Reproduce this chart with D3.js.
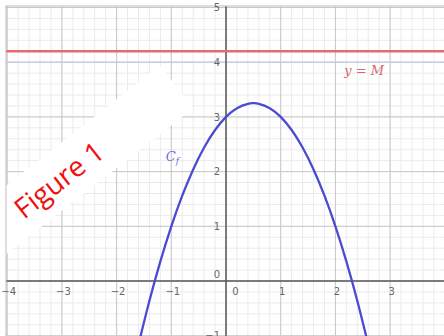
<!DOCTYPE html>
<html>
<head>
<meta charset="utf-8">
<script src="https://cdn.jsdelivr.net/npm/d3@7"></script>
<style>
  body { margin: 0; background: #fff; }
  svg { display: block; }
  .tick text { font-family: "DejaVu Sans", sans-serif; font-size: 10px; fill: #666; }
</style>
</head>
<body>
<div id="chart"></div>
<script>
// curve C_f, points
var curveX = [-1.6, -1.4, -1.2, -1.0, -0.8, -0.6, -0.4, -0.2, 0, 0.2, 0.4, 0.5, 0.6, 0.8, 1.0, 1.2, 1.4, 1.6, 1.8, 2.0, 2.2, 2.4, 2.6];
var curveY = [-1.16, -0.36, 0.36, 1.0, 1.56, 2.04, 2.44, 2.76, 3.0, 3.16, 3.24, 3.25, 3.24, 3.16, 3.0, 2.76, 2.44, 2.04, 1.56, 1.0, 0.36, -0.36, -1.16];

// horizontal line y = M
var lineM = 4.2;
var blueLine = 4;

var xTicks = [-4, -3, -2, -1, 0, 1, 2, 3];
var yTicks = [-1, 0, 1, 2, 3, 4, 5];

var width = 444, height = 336;
var padLeft = 6, padTop = 6;

var svg = d3.select("#chart").append("svg")
    .attr("width", width)
    .attr("height", height);

// scales : origin at (226,281), ~54.7 px per unit
var x = d3.scaleLinear().domain([-4.022, 3.985]).range([padLeft, width]);
var y = d3.scaleLinear().domain([-1.005, 5.027]).range([height, padTop]);

svg.append("clipPath").attr("id", "plot")
  .append("rect")
    .attr("x", padLeft).attr("y", padTop)
    .attr("width", width - padLeft).attr("height", height - padTop);

var plot = svg.append("g").attr("clip-path", "url(#plot)");

// minor grid
var minorX = d3.range(-4, 4.001, 0.2), minorY = d3.range(-1, 5.001, 0.2);
plot.selectAll(".mx").data(minorX).enter().append("line")
    .attr("x1", d => x(d)).attr("x2", d => x(d))
    .attr("y1", padTop).attr("y2", height)
    .attr("stroke", "#ebebeb").attr("stroke-width", 1);
plot.selectAll(".my").data(minorY).enter().append("line")
    .attr("y1", d => y(d)).attr("y2", d => y(d))
    .attr("x1", padLeft).attr("x2", width)
    .attr("stroke", "#ebebeb").attr("stroke-width", 1);

// major grid
plot.selectAll(".gx").data(xTicks).enter().append("line")
    .attr("x1", d => x(d)).attr("x2", d => x(d))
    .attr("y1", padTop).attr("y2", height)
    .attr("stroke", "#c8c8c8").attr("stroke-width", 1);
plot.selectAll(".gy").data(yTicks).enter().append("line")
    .attr("y1", d => y(d)).attr("y2", d => y(d))
    .attr("x1", padLeft).attr("x2", width)
    .attr("stroke", "#c8c8c8").attr("stroke-width", 1);

// light blue line at y = 4
plot.append("line")
    .attr("x1", padLeft).attr("x2", width)
    .attr("y1", y(blueLine)).attr("y2", y(blueLine))
    .attr("stroke", "#c3cbec").attr("stroke-width", 1);

// white band behind the "Figure 1" label
var fig = svg.append("g").attr("transform", "translate(59,180) rotate(-38)");
fig.append("rect")
    .attr("x", -260).attr("y", -28)
    .attr("width", 410).attr("height", 54)
    .attr("fill", "#fff");

// axes
plot.append("line")
    .attr("x1", padLeft).attr("x2", width)
    .attr("y1", y(0)).attr("y2", y(0))
    .attr("stroke", "#5a5a5a").attr("stroke-width", 1.5);
plot.append("line")
    .attr("x1", x(0)).attr("x2", x(0))
    .attr("y1", padTop).attr("y2", height)
    .attr("stroke", "#5a5a5a").attr("stroke-width", 1.5);

// frame (top / left)
svg.append("path")
    .attr("d", "M" + padLeft + "," + height + "V" + padTop + "H" + width)
    .attr("fill", "none").attr("stroke", "#bdbdbd").attr("stroke-width", 1);

// y = M
plot.append("line")
    .attr("x1", padLeft).attr("x2", width)
    .attr("y1", y(lineM)).attr("y2", y(lineM))
    .attr("stroke", "#e66a6e").attr("stroke-width", 2.5);

// the curve
var pts = curveX.map(function(d, i) { return [d, curveY[i]]; });
var valueLine = d3.line()
    .x(function(d) { return x(d[0]); })
    .y(function(d) { return y(d[1]); })
    .curve(d3.curveNatural);

plot.append("path")
    .datum(pts)
    .attr("d", valueLine)
    .attr("fill", "none")
    .attr("stroke", "#4b4bd2")
    .attr("stroke-width", 2.3);

// tick labels
var xAxis = svg.append("g")
    .attr("transform", "translate(0," + y(0) + ")")
    .call(d3.axisBottom(x).tickValues(xTicks).tickSize(0).tickPadding(7).tickFormat(d3.format("d")));
xAxis.select(".domain").remove();
xAxis.selectAll(".tick text").attr("dx", d => d === 0 ? 9 : 1);

var yAxis = svg.append("g")
    .attr("transform", "translate(" + x(0) + ",0)")
    .call(d3.axisLeft(y).tickValues(yTicks).tickSize(0).tickPadding(6).tickFormat(d3.format("d")));
yAxis.select(".domain").remove();
yAxis.selectAll(".tick text").attr("y", d => d === 0 ? -7 : 0);

// curve labels
svg.append("text")
    .attr("x", x(-1.1)).attr("y", y(2.2))
    .attr("font-family", "DejaVu Serif, serif")
    .attr("font-style", "italic")
    .attr("font-size", 13)
    .attr("fill", "#6f6fd0")
    .text("C")
  .append("tspan")
    .attr("dy", 3).attr("font-size", 9)
    .text("f");

svg.append("text")
    .attr("x", x(2.16)).attr("y", y(3.76))
    .attr("font-family", "DejaVu Serif, serif")
    .attr("font-style", "italic")
    .attr("font-size", 13)
    .attr("fill", "#d46a6e")
    .text("y = M");

// Figure 1
fig.append("text")
    .attr("x", 0).attr("y", 10)
    .attr("text-anchor", "middle")
    .attr("font-family", "Open Sans, sans-serif")
    .attr("font-size", 28)
    .attr("fill", "#f01010")
    .text("Figure 1");
</script>
</body>
</html>
